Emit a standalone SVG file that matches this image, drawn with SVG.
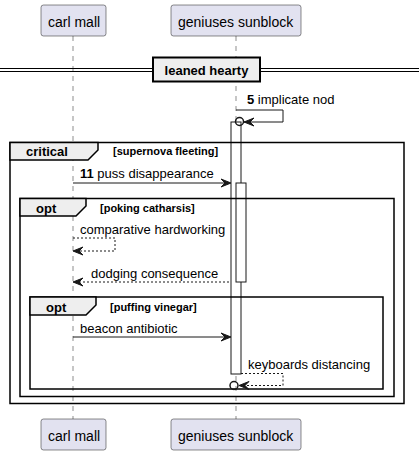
<svg xmlns="http://www.w3.org/2000/svg" width="419" height="455" viewBox="0 0 419 455">
<style>
.part rect{fill:#E2E2F0;stroke:#181818;stroke-width:0.5}
.pt{font-family:"Liberation Sans",Arial,sans-serif;font-size:14px;fill:#000}
.life{stroke:#181818;stroke-width:0.5;stroke-dasharray:5,5;fill:none}
.act{fill:#FFFFFF;stroke:#181818;stroke-width:1}
.frame{fill:none;stroke:#000;stroke-width:1.5}
.tab{fill:#EEEEEE;stroke:#000;stroke-width:1.5}
.ft{font-family:"Liberation Sans",Arial,sans-serif;font-size:13px;font-weight:bold;fill:#000}
.ct{font-family:"Liberation Sans",Arial,sans-serif;font-size:11px;font-weight:bold;fill:#000}
.mt{font-family:"Liberation Sans",Arial,sans-serif;font-size:13px;fill:#000}
.msg{stroke:#181818;stroke-width:1;fill:none}
.dash{stroke-dasharray:2,2}
.ah{fill:#181818;stroke:#181818;stroke-width:1}
.circ{fill:none;stroke:#181818;stroke-width:1.5}
</style>
<g id="lifelines">
<line class="life" x1="73" y1="36" x2="73" y2="419"/>
<line class="life" x1="236" y1="36" x2="236" y2="419"/>
</g>
<g id="divider">
<line x1="0" y1="68.5" x2="419" y2="68.5" stroke="#000" stroke-width="1"/>
<line x1="0" y1="71.5" x2="419" y2="71.5" stroke="#000" stroke-width="1"/>
<rect x="153" y="57.5" width="107" height="24" fill="#EEEEEE" stroke="#000" stroke-width="2"/>
<text class="ft" x="206.5" y="75" text-anchor="middle">leaned hearty</text>
</g>
<g id="activations">
<rect class="act" x="231" y="122" width="10" height="252"/>
<rect class="act" x="236" y="183" width="10" height="99"/>
</g>
<g id="frame-critical">
<rect class="frame" x="10" y="142.5" width="394" height="261"/>
<polygon class="tab" points="10,142.5 98,142.5 98,150 88,160 10,160"/>
<text class="ft" x="26" y="156">critical</text>
<text class="ct" x="113" y="155">[supernova fleeting]</text>
</g>
<g id="frame-opt1">
<rect class="frame" x="20" y="198.5" width="374" height="198"/>
<polygon class="tab" points="20,198.5 86,198.5 86,206 76,216 20,216"/>
<text class="ft" x="36" y="213">opt</text>
<text class="ct" x="100" y="212">[poking catharsis]</text>
</g>
<g id="frame-opt2">
<rect class="frame" x="30" y="297" width="353" height="92"/>
<polygon class="tab" points="30,297 96,297 96,305 86,315 30,315"/>
<text class="ft" x="46" y="312">opt</text>
<text class="ct" x="110" y="311">[puffing vinegar]</text>
</g>
<g id="connectors">
<polyline class="msg" points="236,110 283,110 283,122 243,122"/>
<polygon class="ah" points="244,122 254,118 250,122 254,126"/>
<circle class="circ" cx="239.5" cy="121.5" r="4"/>
<text class="mt" x="247" y="104"><tspan font-weight="bold">5</tspan> implicate nod</text>

<line class="msg" x1="73" y1="183" x2="229" y2="183"/>
<polygon class="ah" points="231,183 221,179 225,183 221,187"/>
<text class="mt" x="80" y="178"><tspan font-weight="bold">11</tspan> puss disappearance</text>

<polyline class="msg dash" points="73,238 115,238 115,251 75,251"/>
<polygon class="ah" points="73,251 83,247 79,251 83,255"/>
<text class="mt" x="80" y="234">comparative hardworking</text>

<line class="msg dash" x1="75" y1="282" x2="231" y2="282"/>
<polygon class="ah" points="73,282 83,278 79,282 83,286"/>
<text class="mt" x="91" y="278">dodging consequence</text>

<line class="msg" x1="73" y1="337" x2="229" y2="337"/>
<polygon class="ah" points="231,337 221,333 225,337 221,341"/>
<text class="mt" x="80" y="333">beacon antibiotic</text>

<polyline class="msg dash" points="241,373.5 283,373.5 283,385.5 240,385.5"/>
<polygon class="ah" points="239,385.5 249,381.5 245,385.5 249,389.5"/>
<circle class="circ" cx="234" cy="385.5" r="4"/>
<text class="mt" x="248" y="369">keyboards distancing</text>
</g>
<g id="p-carl-top" class="part">
<rect x="41" y="5" width="65" height="31" rx="2.5"/>
<text class="pt" x="48" y="27">carl mall</text>
</g>
<g id="p-gen-top" class="part">
<rect x="171" y="5" width="130" height="31" rx="2.5"/>
<text class="pt" x="178" y="27">geniuses sunblock</text>
</g>
<g id="p-carl-bot" class="part">
<rect x="41" y="419" width="65" height="31" rx="2.5"/>
<text class="pt" x="48" y="441">carl mall</text>
</g>
<g id="p-gen-bot" class="part">
<rect x="171" y="419" width="130" height="31" rx="2.5"/>
<text class="pt" x="178" y="441">geniuses sunblock</text>
</g>
</svg>
